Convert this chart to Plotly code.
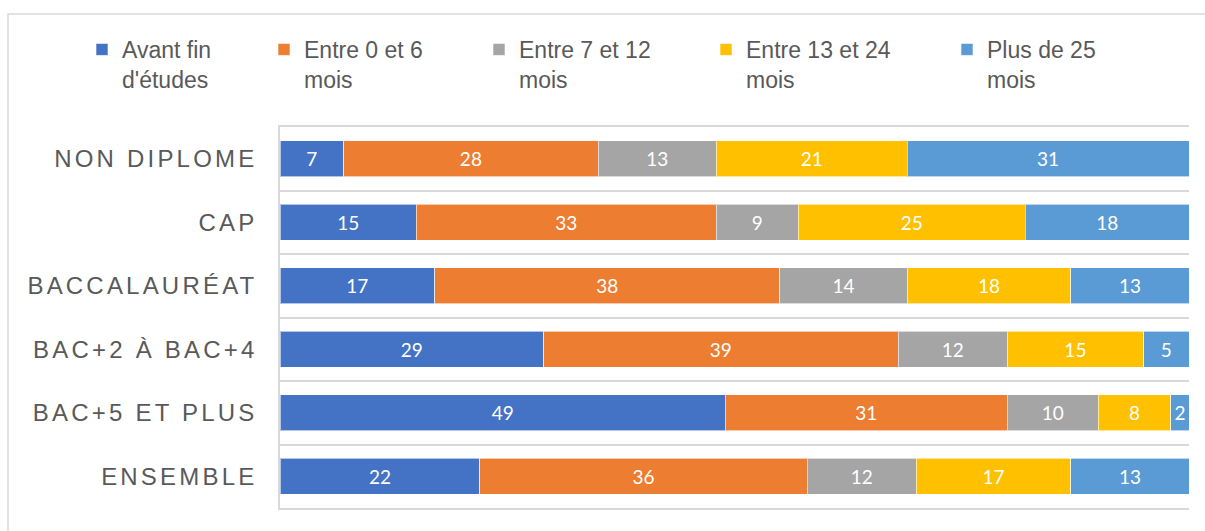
import plotly.graph_objects as go

# categories (top to bottom) and series, in %
niveaux = ["NON DIPLOME", "CAP", "BACCALAURÉAT", "BAC+2 À BAC+4", "BAC+5 ET PLUS", "ENSEMBLE"]
series = ["Avant fin<br>d'études", "Entre 0 et 6<br>mois", "Entre 7 et 12<br>mois",
          "Entre 13 et 24<br>mois", "Plus de 25<br>mois"]
avant_fin = [7, 15, 17, 29, 49, 22]
entre_0_6 = [28, 33, 38, 39, 31, 36]
entre_7_12 = [13, 9, 14, 12, 10, 12]
entre_13_24 = [21, 25, 18, 15, 8, 17]
plus_25 = [31, 18, 13, 5, 2, 13]

values = [avant_fin, entre_0_6, entre_7_12, entre_13_24, plus_25]
colors = ["#4472C4", "#ED7D31", "#A5A5A5", "#FFC000", "#5B9BD5"]

W, H = 1205, 531
L, R, T, B = 280, 16, 127, 23
pw, ph = W - L - R, H - T - B


def px_x(x):
    return (x - L) / pw


def px_y(y):
    return (H - B - y) / ph


# legend text starts (px)
legend_x = [118, 300, 515, 742, 983]

fig = go.Figure()
for i, (name, vals, col) in enumerate(zip(series, values, colors)):
    lg = "legend" if i == 0 else f"legend{i + 1}"
    fig.add_trace(go.Bar(
        y=niveaux, x=vals, name=name, orientation="h",
        marker=dict(color=col, line=dict(color="rgba(255,255,255,0.6)", width=1)),
        text=vals, texttemplate="%{text}", textposition="inside",
        insidetextanchor="middle",
        textfont=dict(family="Lato", size=19, color="white"),
        legend=lg, showlegend=True,
    ))

legends = {}
for i, tx in enumerate(legend_x):
    lg = "legend" if i == 0 else f"legend{i + 1}"
    legends[lg] = dict(
        x=px_x(tx - 36), y=px_y(28), xanchor="left", yanchor="top",
        orientation="h", valign="top", bgcolor="rgba(0,0,0,0)",
        font=dict(family="Liberation Sans", size=23, color="#595959"),
        itemclick=False,
    )

# outer chart border
fig.add_shape(type="rect", xref="paper", yref="paper",
              x0=px_x(8), x1=px_x(1215), y0=px_y(545), y1=px_y(14),
              line=dict(color="#D9D9D9", width=1.5), layer="below")

fig.update_layout(
    width=W, height=H,
    margin=dict(l=L, r=R, t=T, b=B, autoexpand=False),
    barmode="stack", bargap=0.433,
    showlegend=True,
    plot_bgcolor="white", paper_bgcolor="white",
    uniformtext=dict(mode="show", minsize=19),
    xaxis=dict(range=[0, 100], showticklabels=False, ticks="", showgrid=False,
               zeroline=False, showline=True, mirror=True,
               linecolor="#D9D9D9", linewidth=2, fixedrange=True),
    yaxis=dict(
        type="category", autorange="reversed", tickson="boundaries",
        showgrid=True, gridcolor="#D9D9D9", gridwidth=2,
        showline=True, linecolor="#D9D9D9", linewidth=1.5,
        ticks="", ticklabelstandoff=16,
        tickfont=dict(family="Liberation Sans", size=24, color="#595959"),
        automargin=False,
    ),
    **legends,
)

post = """
document.body.style.margin = '0';
var gd = document.getElementById('{plot_id}');
function sp(){document.querySelectorAll('.ytick text').forEach(function(t){t.style.letterSpacing='3.2px';});}
sp(); gd.on('plotly_afterplot', sp);
"""
fig.write_html("out.html", post_script=post, config={"displayModeBar": False})
